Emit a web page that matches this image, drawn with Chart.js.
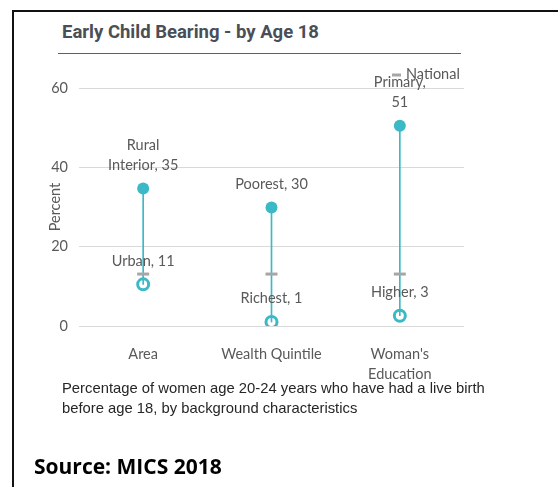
<!DOCTYPE html>
<html>
<head>
<meta charset="utf-8">
<script src="https://cdn.jsdelivr.net/npm/chart.js@4"></script>
<style>
  html, body { margin: 0; padding: 0; background: #fff; }
  body { width: 558px; height: 487px; position: relative; overflow: hidden; }
  #frame { position: absolute; left: 12px; top: 10px; width: 560px; height: 490px; border-left: 2px solid #111; border-top: 2px solid #111; }
  #title { position: absolute; left: 62px; top: 21px; font-family: Roboto, "Liberation Sans", sans-serif; font-weight: 700; font-size: 18.5px; color: #4a4f57; white-space: nowrap; }
  #rule { position: absolute; left: 58px; top: 53px; width: 403px; height: 0; border-top: 1px solid #606060; }
  #cv { position: absolute; left: 0; top: 0; }
  #caption { position: absolute; left: 62px; top: 378px; font-family: "Liberation Sans", Arial, sans-serif; font-size: 14.8px; line-height: 20px; color: #262626; white-space: nowrap; }
  #source { position: absolute; left: 34px; top: 452px; font-family: "Open Sans", sans-serif; font-weight: 700; font-size: 21px; color: #000; white-space: nowrap; }
</style>
</head>
<body>
<div id="frame"></div>
<div id="title">Early Child Bearing - by Age 18</div>
<div id="rule"></div>
<canvas id="cv" width="558" height="487"></canvas>
<div id="caption">Percentage of women age 20-24 years who have had a live birth<br>before age 18, by background characteristics</div>
<div id="source">Source: MICS 2018</div>
<script>
const categories = [['Area'], ['Wealth Quintile'], ["Woman's", 'Education']];
const highValues = [34.7, 29.9, 50.5];
const highLabels = [['Rural', 'Interior, 35'], ['Poorest, 30'], ['Primary,', '51']];
const lowValues = [10.5, 1.0, 2.6];
const lowLabels = [['Urban, 11'], ['Richest, 1'], ['Higher, 3']];
const nationalValues = [13.1, 13.1, 13.1];
const yTicks = [0, 20, 40, 60];

const TEAL = '#3bb9c6';
const GRAY = '#a6a6a6';
const TEXT = '#595959';
const FONT = 'Lato, "Open Sans", sans-serif';
const FS = 14.5;

const rangeData = highValues.map((h, i) => [lowValues[i], h]);

const labelPlugin = {
  id: 'pointLabels',
  afterDatasetsDraw(chart) {
    const ctx = chart.ctx;
    const x = chart.scales.x, y = chart.scales.y;
    ctx.save();
    ctx.font = FS + 'px ' + FONT;
    ctx.fillStyle = TEXT;
    ctx.textAlign = 'center';
    ctx.textBaseline = 'middle';
    const drawSet = (vals, labs) => {
      vals.forEach((v, i) => {
        const px = x.getPixelForValue(i);
        const py = y.getPixelForValue(v);
        const lines = labs[i];
        lines.forEach((t, k) => {
          const off = 23.5 + (lines.length - 1 - k) * 19.5;
          ctx.fillText(t, px, py - off);
        });
      });
    };
    drawSet(highValues, highLabels);
    drawSet(lowValues, lowLabels);
    // legend for National
    const ds = chart.data.datasets.find(d => d.id === 'national');
    const lx = chart.chartArea.right - 72, ly = 75;
    ctx.strokeStyle = GRAY;
    ctx.lineWidth = 3;
    ctx.beginPath();
    ctx.moveTo(lx, ly);
    ctx.lineTo(lx + 9, ly);
    ctx.stroke();
    ctx.textAlign = 'left';
    ctx.fillText(ds.label, lx + 14, ly - 1);
    ctx.restore();
  }
};

new Chart(document.getElementById('cv'), {
  type: 'bar',
  data: {
    labels: categories,
    datasets: [
      { id: 'range', label: 'Range', data: rangeData, backgroundColor: TEAL, barThickness: 1, order: 3 },
      { id: 'national', type: 'line', label: 'National', data: nationalValues, showLine: false, pointStyle: 'line', pointRadius: 6, pointBorderWidth: 3, borderColor: GRAY, pointBorderColor: GRAY, order: 2 },
      { id: 'high', type: 'line', label: 'High', data: highValues, showLine: false, pointStyle: 'circle', pointRadius: 6, pointBackgroundColor: TEAL, pointBorderColor: TEAL, pointBorderWidth: 0, order: 1 },
      { id: 'low', type: 'line', label: 'Low', data: lowValues, showLine: false, pointStyle: 'circle', pointRadius: 5.5, pointBackgroundColor: 'rgba(255,255,255,0)', pointBorderColor: TEAL, pointBorderWidth: 3, order: 1 }
    ]
  },
  options: {
    responsive: false,
    animation: false,
    layout: { padding: { left: 47, right: 94, top: 88.1, bottom: 101 } },
    plugins: { legend: { display: false }, tooltip: { enabled: false } },
    scales: {
      x: {
        offset: true,
        grid: { display: false, drawTicks: false },
        border: { display: false },
        ticks: { color: TEXT, font: { family: FONT, size: FS, lineHeight: 1.4 }, padding: 18, maxRotation: 0 },
        afterFit(s) { s.height = 60; }
      },
      y: {
        min: 0, max: 60,
        afterBuildTicks(s) { s.ticks = yTicks.map(v => ({ value: v })); },
        grid: { drawTicks: false, color: '#d9d9d9', lineWidth: 1 },
        border: { display: false },
        ticks: { color: TEXT, font: { family: FONT, size: FS }, padding: 11 },
        title: { display: true, text: 'Percent', color: TEXT, font: { family: FONT, size: FS }, padding: 0 },
        afterFit(s) { s.width = 32; }
      }
    }
  },
  plugins: [labelPlugin]
});
</script>
</body>
</html>
